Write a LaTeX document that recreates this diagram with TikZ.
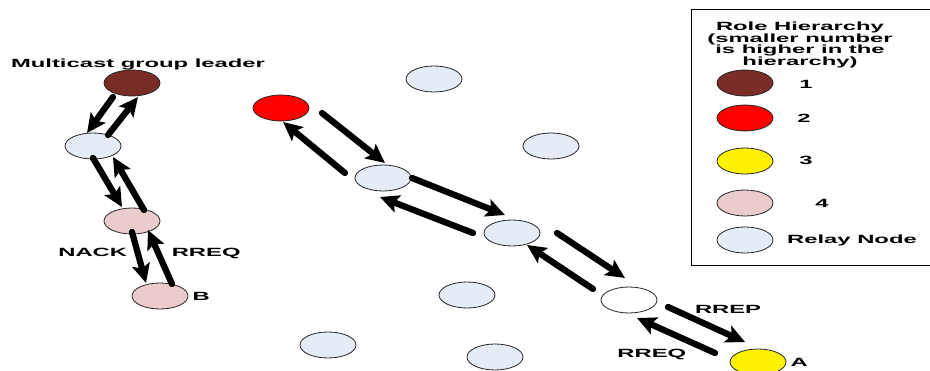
\documentclass[tikz,border=0pt]{standalone}
\usepackage{fontspec}
\usepackage{tikz}
\usepackage{xcolor}
\usetikzlibrary{arrows.meta,shapes.geometric}
\newfontfamily\lblfont[FakeStretch=2]{Liberation Sans}
\definecolor{leadbrown}{RGB}{121,45,38}
\definecolor{hoppink}{RGB}{234,204,204}
\definecolor{relayblue}{RGB}{230,236,246}

\begin{document}
\begin{tikzpicture}[x=1pt,y=-1pt,
  font=\lblfont\bfseries\fontsize{11.9}{11.7}\selectfont,
  mnode/.style={ellipse,draw=black!85,line width=.8pt,minimum width=56pt,minimum height=26pt,inner sep=0pt},
  msg/.style={line width=6.3pt,line cap=round,-{Stealth[length=19pt,width=18pt,inset=4pt]}}]
\useasboundingbox (0,0) rectangle (930,371);

\node(lead) at (132,83) [mnode,fill=leadbrown]{};
\node(l1) at (93,146) [mnode,fill=relayblue]{};
\node(l2) at (132,221) [mnode,fill=hoppink]{};
\node(nb) at (160,296) [mnode,fill=hoppink,label={[inner sep=3.9pt]right:B}]{};
\node(leadtxt) at (138,64) {Multicast group leader};

\node(red) at (281,108) [mnode,fill=red]{};
\node(r1) at (383,178) [mnode,fill=relayblue]{};
\node(r2) at (512,233) [mnode,fill=relayblue]{};
\node(w) at (629,300) [mnode,fill=white]{};
\node(ya) at (758,362) [mnode,fill=yellow,label={[inner sep=3.9pt]right:A}]{};
\node(o1) at (434,79) [mnode,fill=relayblue]{};
\node(o2) at (551,146) [mnode,fill=relayblue]{};
\node(o3) at (467,295) [mnode,fill=relayblue]{};
\node(o4) at (328,345) [mnode,fill=relayblue]{};
\node(o5) at (495,357) [mnode,fill=relayblue]{};

\draw [msg]([shift={(-19,14)}]lead.center)--([shift={(-6,-13)}]l1.center);
\draw [msg]([shift={(15,-11)}]l1.center)--([shift={(6,14)}]lead.center);
\draw [msg]([shift={(0,12)}]l1.center)--([shift={(-10,-14)}]l2.center);
\draw [msg]([shift={(12,-11)}]l2.center)--([shift={(20,11)}]l1.center);
\draw [msg]([shift={(0,11)}]l2.center)--([shift={(-14,-13)}]nb.center) node[pos=0.4,left=4pt]{NACK};
\draw [msg]([shift={(12,-12)}]nb.center)--([shift={(16,9)}]l2.center) node[pos=0.57,right=7pt]{RREQ};

\draw [msg]([shift={(41,5)}]red.center)--([shift={(2,-15)}]r1.center);
\draw [msg]([shift={(-38,-5)}]r1.center)--([shift={(2,14)}]red.center);
\draw [msg]([shift={(29,0)}]r1.center)--([shift={(-7,-18)}]r2.center);
\draw [msg]([shift={(-39,0)}]r2.center)--([shift={(-3,19)}]r1.center);
\draw [msg]([shift={(45,0)}]r2.center)--([shift={(-4,-22)}]w.center);
\draw [msg]([shift={(-36,-11)}]w.center)--([shift={(15,12)}]r2.center);
\draw [msg]([shift={(39,7)}]w.center)--([shift={(-13,-20)}]ya.center) node[pos=0.78,above=14pt]{RREP};
\draw [msg]([shift={(-43,-9)}]ya.center)--([shift={(8,18)}]w.center) node[pos=0.81,below=18pt]{RREQ};

\draw [line width=.8pt](691,9) rectangle (935,265);
\node(title) at (800,45) [align=center]{Role Hierarchy\\(smaller number\\is higher in the\\hierarchy)};
\node(k1) at (745,83) [mnode,fill=leadbrown]{};
\node(k2) at (745,118) [mnode,fill=red]{};
\node(k3) at (745,161) [mnode,fill=yellow]{};
\node(k4) at (745,203) [mnode,fill=hoppink]{};
\node(k5) at (745,240) [mnode,fill=relayblue]{};
\node(t1) at (806,84) {1};
\node(t2) at (804,118) {2};
\node(t3) at (806,160) {3};
\node(t4) at (822,203) {4};
\node(t5) at (852,240) {Relay Node};
\end{tikzpicture}
\end{document}
